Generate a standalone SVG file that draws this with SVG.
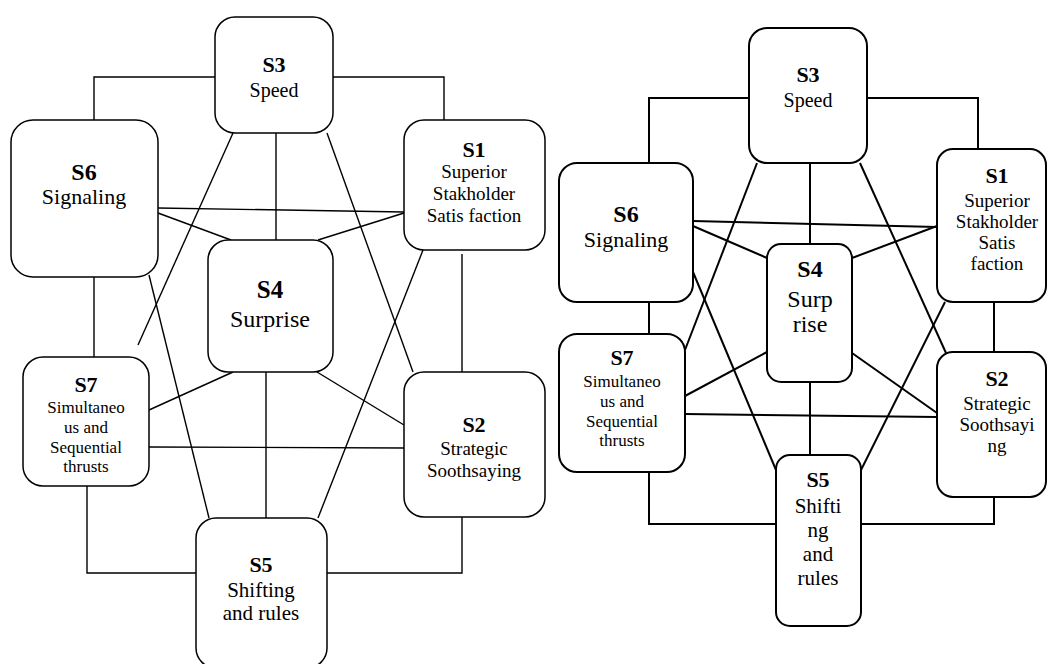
<svg xmlns="http://www.w3.org/2000/svg" width="1048" height="664" viewBox="0 0 1048 664">
<style>
.n{fill:#fff;stroke:#000;stroke-width:1.5}
.r{fill:#fff;stroke:#000;stroke-width:2}
.c line,.c polyline{stroke:#000;stroke-width:1.4;fill:none}
.c2 line,.c2 polyline{stroke:#000;stroke-width:2;fill:none}
text{font-family:"Liberation Serif","Liberation Serif Regular",Tinos,"Nimbus Roman","Nimbus Roman No9 L",FreeSerif,"DejaVu Serif",serif;font-weight:400;fill:#000;text-anchor:middle}
text.b{font-weight:700}
</style>
<rect width="1048" height="664" fill="#fff"/>
<g id="left-connectors" class="c">
<polyline points="215,77 94,77 94,120"/>
<polyline points="333,77 444,77 444,120"/>
<line x1="94" y1="277" x2="94" y2="357"/>
<polyline points="87,486 87,573 196,573"/>
<polyline points="462,517 462,573 327,573"/>
<line x1="462" y1="254" x2="462" y2="372"/>
<line x1="276" y1="133" x2="276" y2="240"/>
<line x1="266" y1="372" x2="266" y2="518"/>
<line x1="158" y1="208" x2="404" y2="212"/>
<line x1="158" y1="213" x2="231" y2="240"/>
<line x1="404" y1="213" x2="318" y2="240"/>
<line x1="233" y1="133" x2="138" y2="345"/>
<line x1="149" y1="275" x2="209" y2="518"/>
<line x1="327" y1="133" x2="413" y2="372"/>
<line x1="423" y1="250" x2="318" y2="518"/>
<line x1="149" y1="410" x2="233" y2="372"/>
<line x1="149" y1="447" x2="404" y2="448"/>
<line x1="317" y1="372" x2="404" y2="425"/>
</g>
<g id="L-S3"><rect class="n" x="215" y="17" width="118" height="116" rx="20"/>
<text x="274" y="72" class="b" font-size="22">S3</text><text x="274" y="97" font-size="20">Speed</text></g>
<g id="L-S6"><rect class="n" x="11" y="120" width="147" height="157" rx="22"/>
<text x="84" y="180" class="b" font-size="24">S6</text><text x="84" y="204" font-size="22">Signaling</text></g>
<g id="L-S1"><rect class="n" x="404" y="120" width="141" height="130" rx="20"/>
<text x="474" y="157" class="b" font-size="22">S1</text><text x="474" y="178" font-size="19">Superior</text><text x="474" y="200" font-size="19">Stakholder</text><text x="474" y="222" font-size="19">Satis faction</text></g>
<g id="L-S4"><rect class="n" x="208" y="240" width="125" height="132" rx="20"/>
<text x="270" y="298" class="b" font-size="25">S4</text><text x="270" y="327" font-size="24">Surprise</text></g>
<g id="L-S7"><rect class="n" x="23" y="357" width="126" height="129" rx="20"/>
<text x="86" y="392" class="b" font-size="22">S7</text><text x="86" y="413" font-size="17">Simultaneo</text><text x="86" y="433" font-size="17">us and</text><text x="86" y="453" font-size="17">Sequential</text><text x="86" y="472" font-size="17">thrusts</text></g>
<g id="L-S2"><rect class="n" x="404" y="372" width="141" height="145" rx="20"/>
<text x="474" y="432" class="b" font-size="22">S2</text><text x="474" y="455" font-size="19">Strategic</text><text x="474" y="477" font-size="19">Soothsaying</text></g>
<g id="L-S5"><rect class="n" x="196" y="518" width="131" height="150" rx="20"/>
<text x="261" y="572" class="b" font-size="22">S5</text><text x="261" y="597" font-size="21">Shifting</text><text x="261" y="620" font-size="21">and rules</text></g>

<g id="right-connectors" class="c2">
<polyline points="749,98 649,98 649,163"/>
<polyline points="867,98 978,98 978,149"/>
<line x1="649" y1="302" x2="649" y2="334"/>
<polyline points="649,472 649,524 776,524"/>
<polyline points="994,497 994,524 861,524"/>
<line x1="994" y1="302" x2="994" y2="352"/>
<line x1="810" y1="163" x2="810" y2="244"/>
<line x1="810" y1="382" x2="810" y2="455"/>
<line x1="693" y1="221" x2="937" y2="227"/>
<line x1="693" y1="226" x2="767" y2="258"/>
<line x1="937" y1="226" x2="852" y2="258"/>
<line x1="757" y1="163" x2="685" y2="350"/>
<line x1="693" y1="272" x2="776" y2="470"/>
<line x1="860" y1="163" x2="946" y2="353"/>
<line x1="945" y1="302" x2="861" y2="470"/>
<line x1="685" y1="396" x2="767" y2="352"/>
<line x1="685" y1="414" x2="937" y2="417"/>
<line x1="852" y1="353" x2="937" y2="413"/>
</g>
<g id="R-S3"><rect class="r" x="749" y="28" width="118" height="135" rx="18"/>
<text x="808" y="82" class="b" font-size="22">S3</text><text x="808" y="107" font-size="20">Speed</text></g>
<g id="R-S6"><rect class="r" x="559" y="163" width="134" height="139" rx="18"/>
<text x="626" y="222" class="b" font-size="24">S6</text><text x="626" y="247" font-size="22">Signaling</text></g>
<g id="R-S1"><rect class="r" x="937" y="149" width="109" height="153" rx="16"/>
<text x="997" y="183" class="b" font-size="22">S1</text><text x="997" y="207" font-size="19">Superior</text><text x="997" y="228" font-size="19">Stakholder</text><text x="997" y="249" font-size="19">Satis</text><text x="997" y="270" font-size="19">faction</text></g>
<g id="R-S4"><rect class="r" x="767" y="244" width="85" height="138" rx="14"/>
<text x="810" y="277" class="b" font-size="24">S4</text><text x="810" y="307" font-size="24">Surp</text><text x="810" y="332" font-size="24">rise</text></g>
<g id="R-S7"><rect class="r" x="559" y="334" width="126" height="138" rx="18"/>
<text x="622" y="365" class="b" font-size="22">S7</text><text x="622" y="387" font-size="17">Simultaneo</text><text x="622" y="407" font-size="17">us and</text><text x="622" y="427" font-size="17">Sequential</text><text x="622" y="446" font-size="17">thrusts</text></g>
<g id="R-S2"><rect class="r" x="937" y="352" width="109" height="145" rx="16"/>
<text x="997" y="386" class="b" font-size="22">S2</text><text x="997" y="410" font-size="19">Strategic</text><text x="997" y="431" font-size="19">Soothsayi</text><text x="997" y="452" font-size="19">ng</text></g>
<g id="R-S5"><rect class="r" x="776" y="455" width="85" height="171" rx="14"/>
<text x="818" y="487" class="b" font-size="22">S5</text><text x="818" y="513" font-size="21">Shifti</text><text x="818" y="537" font-size="21">ng</text><text x="818" y="561" font-size="21">and</text><text x="818" y="585" font-size="21">rules</text></g>
</svg>
